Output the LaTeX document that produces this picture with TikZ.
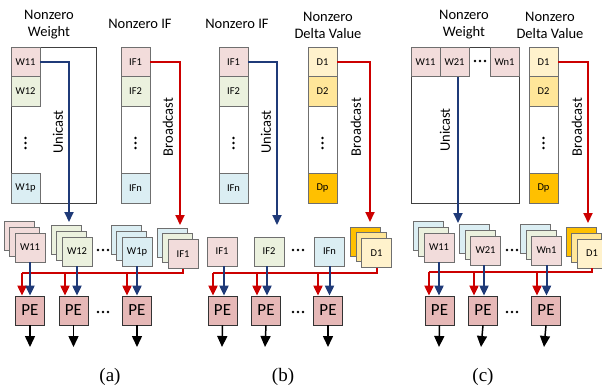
\documentclass[tikz,border=0pt]{standalone}
\usepackage{fontspec}
\setmainfont{Carlito}
\newfontfamily\capfont{Liberation Serif}
\usetikzlibrary{arrows.meta,calc}
\definecolor{pinkc}{HTML}{F2DCDB}
\definecolor{greenc}{HTML}{EBF1DE}
\definecolor{bluec}{HTML}{DBEEF3}
\definecolor{dA}{HTML}{FFF2CC}
\definecolor{dB}{HTML}{FFE699}
\definecolor{dC}{HTML}{FFC000}
\definecolor{pec}{HTML}{E6B8B7}
\definecolor{navy}{HTML}{1F3A78}
\definecolor{redc}{HTML}{CC0000}
\definecolor{bord}{HTML}{6F6F6F}
\tikzset{
  cell/.style={draw=bord,line width=0.8pt,minimum width=29pt,minimum height=29.5pt,inner sep=0pt,font=\fontsize{10.5}{11}\selectfont},
  sq/.style={draw=bord,line width=0.8pt,minimum width=30pt,minimum height=29pt,inner sep=0pt,font=\fontsize{10.5}{11}\selectfont},
  obox/.style={draw=black!75,line width=0.8pt,inner sep=0pt},
  title/.style={align=center,font=\fontsize{14.5}{17}\selectfont,inner sep=0pt},
  lbl/.style={font=\fontsize{14.5}{16}\selectfont,inner sep=0pt,rotate=90},
  pe/.style={draw=black!80,line width=0.8pt,fill=pec,minimum width=29pt,minimum height=29pt,inner sep=0pt,font=\fontsize{17}{17}\selectfont},
  bl/.style={draw=navy,line width=2pt},
  rd/.style={draw=redc,line width=2pt},
  arr/.style={-{Triangle[width=9pt,length=10pt]}},
  barr/.style={draw=black,line width=1.5pt,-{Triangle[width=10pt,length=11pt]}},
  captxt/.style={font=\capfont\fontsize{19}{19}\selectfont,inner sep=0pt}
}
\newcommand\mkstack[7]{%
  \node[sq,fill=#4] (#1b) at (#2-11,#3-11.5) {};
  \node[sq,fill=#5] (#1m) at (#2-5.5,#3-5.75) {};
  \node[sq,fill=#6] (#1) at (#2,#3) {#7};}
\newcommand\hdt[2]{\fill (#1-5,#2) circle[radius=1.4pt] (#1,#2) circle[radius=1.4pt] (#1+5,#2) circle[radius=1.4pt];}
\newcommand\vdt[2]{\fill (#1,#2-5) circle[radius=1.4pt] (#1,#2) circle[radius=1.4pt] (#1,#2+5) circle[radius=1.4pt];}
\begin{document}
\begin{tikzpicture}[x=1pt,y=-1pt]
\useasboundingbox (0,0) rectangle (602,388);
% ================= (a) =================
\node[title] (ta1) at (49,25) {Nonzero\\Weight};
\node[title] (ta2) at (140,24) {Nonzero IF};
\node[obox,minimum width=85pt,minimum height=156pt] (wa) at (53.5,125) {};
\node[cell,fill=pinkc] (aw11) at (25.5,62) {W11};
\node[cell,fill=greenc] (aw12) at (25.5,91.5) {W12};
\node[cell,fill=bluec] (aw1p) at (25.5,188.25) {W1p};
\vdt{25.5}{143}
\node[obox,draw=bord,minimum width=29pt,minimum height=156pt] (ifa) at (135.5,125) {};
\node[cell,fill=pinkc] (aif1) at (135.5,62) {IF1};
\node[cell,fill=greenc] (aif2) at (135.5,91.5) {IF2};
\node[cell,fill=bluec] (aifn) at (135.5,188.25) {IFn};
\vdt{135.5}{143}
\node[lbl] (ua) at (58,132) {Unicast};
\node[lbl] (ba) at (168,127) {Broadcast};
\mkstack{sa1}{30}{247.5}{pinkc}{pinkc}{pinkc}{W11}
\mkstack{sa2}{77}{251.5}{greenc}{greenc}{greenc}{W12}
\mkstack{sa3}{137}{251.5}{bluec}{bluec}{bluec}{W1p}
\mkstack{sa4}{183}{254}{bluec}{greenc}{pinkc}{IF1}
\hdt{103}{250}
\coordinate (ua0) at (69,222);
\coordinate (ba0) at (180,225);
\draw[bl,arr] (aw11.east) -| (ua0);
\draw[rd,arr] (aif1.east) -| (ba0);
\node[pe] (pa1) at (30,310.5) {PE};
\node[pe] (pa2) at (73.5,310.5) {PE};
\node[pe] (pa3) at (137,310.5) {PE};
\hdt{103}{312}
\coordinate (bua1) at (22,273);
\coordinate (bua2) at (65,273);
\coordinate (bua3) at (127,273);
\draw[rd] (sa4.south) |- (bua1);
\draw[rd,arr] (bua1) -- (bua1 |- pa1.north);
\draw[rd,arr] (bua2) -- (bua2 |- pa2.north);
\draw[rd,arr] (bua3) -- (bua3 |- pa3.north);
\draw[bl,arr] (sa1.south) -- (sa1.south |- pa1.north);
\draw[bl,arr] (sa2.south) -- (sa2.south |- pa2.north);
\draw[bl,arr] (sa3.south) -- (sa3.south |- pa3.north);
\coordinate (oa1) at (30,347);
\coordinate (oa2) at (73.5,347);
\coordinate (oa3) at (137,347);
\draw[barr] (pa1.south) -- (oa1);
\draw[barr] (pa2.south) -- (oa2);
\draw[barr] (pa3.south) -- (oa3);
\node[captxt] (capa) at (110,377) {(a)};
% ================= (b) =================
\node[title] (tb1) at (237,24) {Nonzero IF};
\node[title] (tb2) at (328,25) {Nonzero\\Delta Value};
\node[obox,draw=bord,minimum width=29pt,minimum height=156pt] (ifb) at (233.5,125) {};
\node[cell,fill=pinkc] (bif1) at (233.5,62) {IF1};
\node[cell,fill=greenc] (bif2) at (233.5,91.5) {IF2};
\node[cell,fill=bluec] (bifn) at (233.5,188.25) {IFn};
\vdt{233.5}{143}
\node[obox,draw=bord,minimum width=29pt,minimum height=156pt] (db) at (322.5,125) {};
\node[cell,fill=dA] (bd1) at (322.5,62) {D1};
\node[cell,fill=dB] (bd2) at (322.5,91.5) {D2};
\node[cell,fill=dC] (bdp) at (322.5,188.25) {Dp};
\vdt{322.5}{143}
\node[lbl] (ub) at (266,132) {Unicast};
\node[lbl] (bb) at (356,127) {Broadcast};
\node[sq,fill=pinkc] (sb1) at (222,251.5) {IF1};
\node[sq,fill=greenc] (sb2) at (269,251.5) {IF2};
\node[sq,fill=bluec] (sb3) at (329.5,251.5) {IFn};
\mkstack{sb4}{376.5}{253}{dC}{dB}{dA}{D1}
\hdt{298}{250}
\coordinate (ub0) at (277,225);
\coordinate (bb0) at (370,222);
\draw[bl,arr] (bif1.east) -| (ub0);
\draw[rd,arr] (bd1.east) -| (bb0);
\node[pe] (pb1) at (222.5,310.5) {PE};
\node[pe] (pb2) at (266,310.5) {PE};
\node[pe] (pb3) at (328,310.5) {PE};
\hdt{298}{312}
\coordinate (bub1) at (213,273);
\coordinate (bub2) at (257,273);
\coordinate (bub3) at (318,273);
\draw[rd] (sb4.south) |- (bub1);
\draw[rd,arr] (bub1) -- (bub1 |- pb1.north);
\draw[rd,arr] (bub2) -- (bub2 |- pb2.north);
\draw[rd,arr] (bub3) -- (bub3 |- pb3.north);
\draw[bl,arr] ([xshift=2pt]sb1.south) -- ([xshift=2pt]sb1.south |- pb1.north);
\draw[bl,arr] ([xshift=-2pt]sb2.south) -- ([xshift=-2pt]sb2.south |- pb2.north);
\draw[bl,arr] (sb3.south) -- (sb3.south |- pb3.north);
\coordinate (ob1) at (222,347);
\coordinate (ob2) at (265,347);
\coordinate (ob3) at (328,347);
\draw[barr] (pb1.south) -- (ob1);
\draw[barr] (pb2.south) -- (ob2);
\draw[barr] (pb3.south) -- (ob3);
\node[captxt] (capb) at (283,377) {(b)};
% ================= (c) =================
\node[title] (tc1) at (464,25) {Nonzero\\Weight};
\node[title] (tc2) at (550,25) {Nonzero\\Delta Value};
\node[obox,minimum width=108pt,minimum height=156pt] (wc) at (465,125) {};
\node[cell,fill=pinkc] (cw11) at (425.5,62) {W11};
\node[cell,fill=pinkc] (cw21) at (454.5,62) {W21};
\node[cell,fill=pinkc] (cwn1) at (504.5,62) {Wn1};
\hdt{480}{61}
\node[obox,draw=bord,minimum width=29pt,minimum height=156pt] (dc) at (543.5,125) {};
\node[cell,fill=dA] (cd1) at (543.5,62) {D1};
\node[cell,fill=dB] (cd2) at (543.5,91.5) {D2};
\node[cell,fill=dC] (cdp) at (543.5,188.25) {Dp};
\vdt{543.5}{143}
\node[lbl] (uc) at (445,130) {Unicast};
\node[lbl] (bc) at (577,127) {Broadcast};
\mkstack{sc1}{439}{247.5}{bluec}{greenc}{pinkc}{W11}
\mkstack{sc2}{485.5}{250.5}{bluec}{greenc}{pinkc}{W21}
\mkstack{sc3}{546.5}{250.5}{bluec}{greenc}{pinkc}{Wn1}
\mkstack{sc4}{592}{253.5}{dC}{dB}{dA}{D1}
\hdt{512}{250}
\coordinate (uc0) at (458,223);
\coordinate (bc0) at (588,223);
\draw[bl,arr] ([xshift=3.5pt]cw21.south) -- (uc0);
\draw[rd,arr] (cd1.east) -| (bc0);
\node[pe] (pc1) at (439.5,310.5) {PE};
\node[pe] (pc2) at (483,310.5) {PE};
\node[pe] (pc3) at (546,310.5) {PE};
\hdt{512}{312}
\coordinate (buc1) at (429,272);
\coordinate (buc2) at (474,272);
\coordinate (buc3) at (537,272);
\draw[rd] (sc4.south) |- (buc1);
\draw[rd,arr] (buc1) -- (buc1 |- pc1.north);
\draw[rd,arr] (buc2) -- (buc2 |- pc2.north);
\draw[rd,arr] (buc3) -- (buc3 |- pc3.north);
\draw[bl,arr] (sc1.south) -- (sc1.south |- pc1.north);
\draw[bl,arr] ([xshift=-1.5pt]sc2.south) -- ([xshift=-1.5pt]sc2.south |- pc2.north);
\draw[bl,arr] (sc3.south) -- (sc3.south |- pc3.north);
\coordinate (oc1) at (439,347);
\coordinate (oc2) at (481,347);
\coordinate (oc3) at (544,347);
\draw[barr] (pc1.south) -- (oc1);
\draw[barr] (pc2.south) -- (oc2);
\draw[barr] (pc3.south) -- (oc3);
\node[captxt] (capc) at (483,377) {(c)};
\end{tikzpicture}
\end{document}
